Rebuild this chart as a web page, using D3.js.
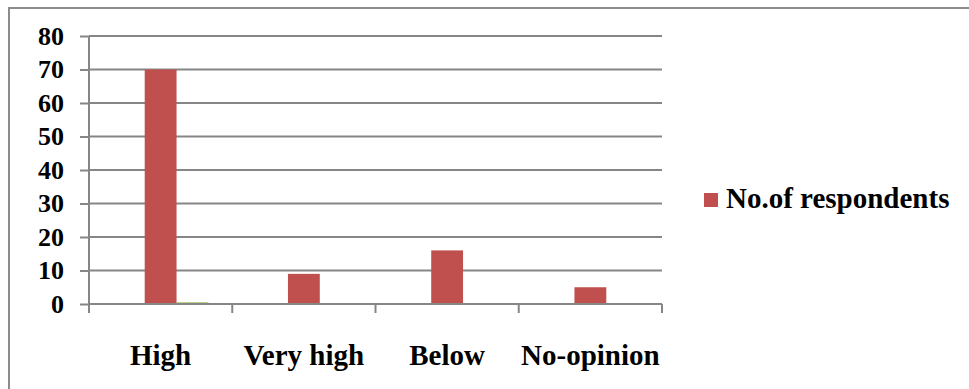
<!DOCTYPE html>
<html>
<head>
<meta charset="utf-8">
<script src="https://cdn.jsdelivr.net/npm/d3@7"></script>
<style>
  html, body { margin: 0; padding: 0; background: #fff; }
  svg { display: block; }
</style>
</head>
<body>
<svg id="chart" width="969" height="389"></svg>
<script>
// Response categories and the three series of the column chart
const categories = ["High", "Very high", "Below", "No-opinion"];
const seriesNames = ["Series1", "No.of respondents", "Series3"];
const series1 = [0, 0, 0, 0];
const respondents = [70, 9, 16, 5];
const series3 = [0.5, 0, 0, 0];
const yTicks = [0, 10, 20, 30, 40, 50, 60, 70, 80];
const legendNames = ["No.of respondents"];

const seriesValues = [series1, respondents, series3];
const seriesColors = ["#4f81bd", "#c0504d", "#9bbb59"];

const FONT = "'Liberation Serif', 'Times New Roman', Times, serif";
const svg = d3.select("#chart");
const gridColor = "#868686";

// Outer chart-area frame (runs past the right and bottom edges)
svg.append("path")
  .attr("d", "M9,389 V8 H969")
  .attr("fill", "none")
  .attr("stroke", "#8c8c8c")
  .attr("stroke-width", 2);

const plot = { left: 89, right: 662, top: 36, bottom: 304 };

const x = d3.scaleBand()
  .domain(categories)
  .range([plot.left, plot.right])
  .paddingInner(0)
  .paddingOuter(0);

// Three slots per category; 150% gap split around the cluster
const xSub = d3.scaleBand()
  .domain(seriesNames)
  .range([0, x.bandwidth()])
  .paddingInner(0)
  .paddingOuter(0.75);

const y = d3.scaleLinear()
  .domain([0, 80])
  .range([plot.bottom, plot.top]);

// Horizontal gridlines
svg.append("g")
  .selectAll("line")
  .data(yTicks.filter(d => d > 0))
  .join("line")
  .attr("x1", plot.left)
  .attr("x2", plot.right)
  .attr("y1", d => y(d))
  .attr("y2", d => y(d))
  .attr("stroke", gridColor)
  .attr("stroke-width", 2);

// Columns
const groups = svg.append("g")
  .selectAll("g")
  .data(seriesNames)
  .join("g")
  .attr("fill", (d, i) => seriesColors[i]);

groups.selectAll("rect")
  .data((name, si) => categories.map((c, ci) => ({ c, name, v: seriesValues[si][ci] })))
  .join("rect")
  .attr("x", d => x(d.c) + xSub(d.name))
  .attr("width", xSub.bandwidth())
  .attr("y", d => y(d.v))
  .attr("height", d => y(0) - y(d.v));

// Y axis
const yAxis = svg.append("g")
  .attr("transform", `translate(${plot.left},0)`)
  .call(d3.axisLeft(y).tickValues(yTicks).tickSize(9).tickPadding(16).tickFormat(d3.format("d")));
yAxis.selectAll("line, path").attr("stroke", gridColor).attr("stroke-width", 2);
yAxis.select(".domain").attr("d", `M0,${plot.top}V${plot.bottom}`);
yAxis.selectAll("text")
  .style("font-family", FONT)
  .style("font-weight", "bold")
  .style("font-size", "26px")
  .attr("fill", "#000");

// X axis
const xAxis = svg.append("g")
  .attr("transform", `translate(0,${plot.bottom})`)
  .call(d3.axisBottom(x).tickSize(0).tickPadding(40));
xAxis.select(".domain").attr("d", `M${plot.left},0H${plot.right}`)
  .attr("stroke", gridColor).attr("stroke-width", 2);
xAxis.selectAll("text")
  .style("font-family", FONT)
  .style("font-weight", "bold")
  .style("font-size", "29px")
  .attr("fill", "#000");

// Category boundary ticks
svg.append("g")
  .selectAll("line")
  .data(categories.map(c => x(c)).concat([plot.right]))
  .join("line")
  .attr("x1", d => d).attr("x2", d => d)
  .attr("y1", plot.bottom).attr("y2", plot.bottom + 9)
  .attr("stroke", gridColor)
  .attr("stroke-width", 2);

// Legend
const legend = svg.append("g")
  .selectAll("g")
  .data(legendNames)
  .join("g")
  .attr("transform", "translate(704,193)");
legend.append("rect")
  .attr("width", 14).attr("height", 14)
  .attr("fill", seriesColors[1]);
legend.append("text")
  .attr("x", 22).attr("y", 15)
  .style("font-family", FONT)
  .style("font-weight", "bold")
  .style("font-size", "29px")
  .attr("fill", "#000")
  .text(d => d);
</script>
</body>
</html>
